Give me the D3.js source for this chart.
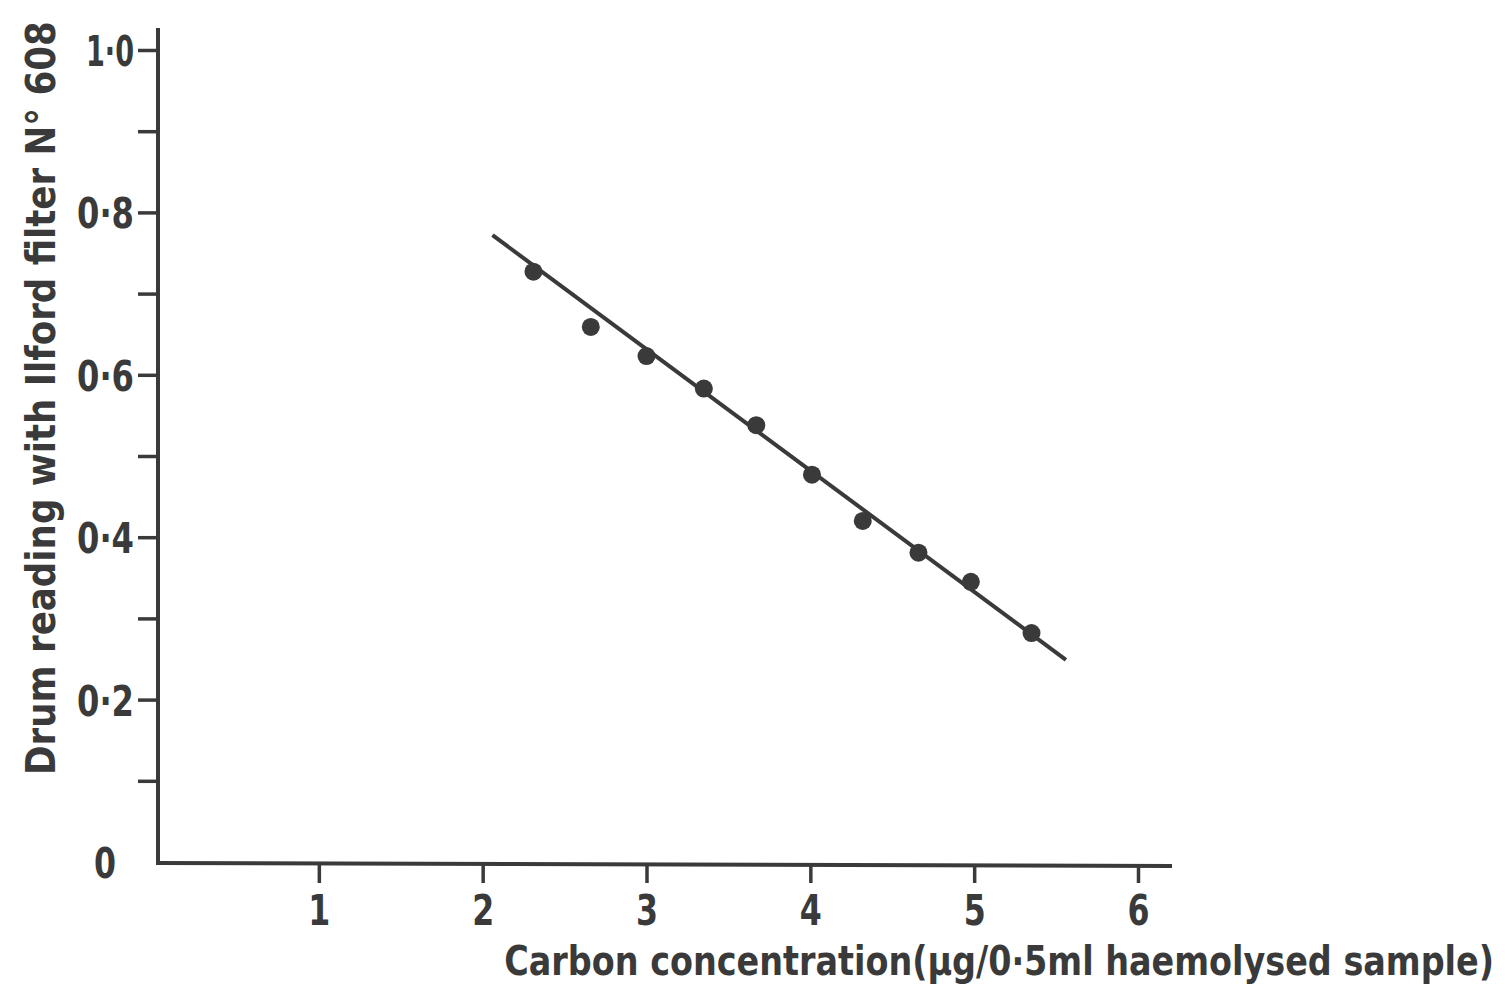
<!DOCTYPE html>
<html>
<head>
<meta charset="utf-8">
<script src="https://cdn.jsdelivr.net/npm/d3@7"></script>
<style>
  html, body { margin: 0; padding: 0; background: #ffffff; }
  svg { display: block; }
  text { font-family: "DejaVu Sans Condensed", "DejaVu Sans", sans-serif; font-weight: bold; fill: #3a3a3a; }
</style>
</head>
<body>
<svg id="chart" width="1505" height="989"></svg>
<script>
// ---- data ----
const carbon = [2.31, 2.66, 3.00, 3.35, 3.67, 4.01, 4.32, 4.66, 4.98, 5.35];
const drumReading = [0.727, 0.659, 0.623, 0.583, 0.538, 0.477, 0.420, 0.381, 0.345, 0.282];
const fitLineX = [2.06, 5.56];
const fitLineY = [0.772, 0.249];
const xTickValues = [1, 2, 3, 4, 5, 6];
const yTickValues = [0.1, 0.2, 0.3, 0.4, 0.5, 0.6, 0.7, 0.8, 0.9, 1.0];
const yLabelledTicks = [0.2, 0.4, 0.6, 0.8, 1.0];
const xTitle = "Carbon concentration(\u00b5g/0\u00b75ml  haemolysed sample)";
const yTitle = "Drum reading with Ilford  filter N\u00b0 608";
const originLabel = "0";

const ink = "#3a3a3a";
const svg = d3.select("#chart");

const x = d3.scaleLinear().domain([0, 6]).range([155, 1138]);
const y = d3.scaleLinear().domain([0, 1]).range([862, 50]);

const fmt = v => d3.format(".1f")(v).replace(".", "\u00b7");

// y axis
const yAxisG = svg.append("g").attr("transform", "translate(158,0)")
  .call(d3.axisLeft(y).tickValues(yTickValues).tickSize(20).tickPadding(4)
    .tickFormat(v => yLabelledTicks.some(t => Math.abs(t - v) < 1e-9) ? fmt(v) : ""));
yAxisG.select(".domain").remove();
yAxisG.selectAll(".tick line").attr("stroke", ink).attr("stroke-width", 3.5);
yAxisG.selectAll(".tick text")
  .style("font-size", "43px").attr("fill", ink)
  .attr("dy", "0.36em")
  .each(function(d) {
    if (this.textContent) {
      d3.select(this).attr("textLength", Math.abs(d - 1) < 1e-9 ? 48 : 57).attr("lengthAdjust", "spacingAndGlyphs");
    }
  });
svg.append("line").attr("x1", 158).attr("x2", 158).attr("y1", 28).attr("y2", y(0) + 1.5)
  .attr("stroke", ink).attr("stroke-width", 4);

// x axis
const xAxisG = svg.append("g").attr("transform", `translate(0,${y(0) + 2})`)
  .call(d3.axisBottom(x).tickValues(xTickValues).tickSize(19).tickPadding(12).tickFormat(d3.format("d")));
xAxisG.select(".domain").remove();
xAxisG.selectAll(".tick line").attr("stroke", ink).attr("stroke-width", 3.5);
xAxisG.selectAll(".tick text").style("font-size", "42px").attr("fill", ink)
  .attr("textLength", 22).attr("lengthAdjust", "spacingAndGlyphs");
svg.append("line").attr("x1", 156).attr("x2", 1172).attr("y1", y(0) + 1).attr("y2", y(0) + 4)
  .attr("stroke", ink).attr("stroke-width", 4);

// origin label
svg.append("text").attr("x", 105).attr("y", y(0) + 16).attr("text-anchor", "middle")
  .style("font-size", "43px").attr("textLength", 22).attr("lengthAdjust", "spacingAndGlyphs")
  .text(originLabel);

// titles: horizontally compressed to match the narrow lettering
function squeezedText(str, tx, ty, rot, width, anchor) {
  const t = svg.append("text").style("font-size", "40px").attr("text-anchor", anchor).text(str);
  const natural = t.node().getComputedTextLength();
  const sx = width / natural;
  t.attr("transform", `translate(${tx},${ty}) rotate(${rot}) scale(${sx},1)`);
  return t;
}
squeezedText(xTitle, 1494, 975, 0, 990, "end");
squeezedText(yTitle, 55, 775, -90, 754, "start");

// fitted line
svg.append("path")
  .datum(fitLineX.map((v, i) => [v, fitLineY[i]]))
  .attr("d", d3.line().x(d => x(d[0])).y(d => y(d[1])))
  .attr("fill", "none").attr("stroke", ink).attr("stroke-width", 4);

// points
svg.append("g").selectAll("circle")
  .data(carbon.map((c, i) => ({ c, r: drumReading[i] })))
  .join("circle")
  .attr("cx", d => x(d.c)).attr("cy", d => y(d.r)).attr("r", 9)
  .attr("fill", ink);
</script>
</body>
</html>
